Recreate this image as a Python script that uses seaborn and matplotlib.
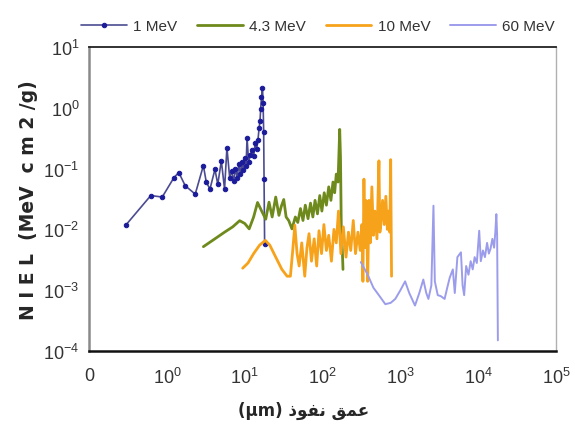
import numpy as np
import pandas as pd
import matplotlib
matplotlib.use("Agg")
import matplotlib.pyplot as plt
import seaborn as sns

# data (depth in um, NIEL in MeV cm2/g)
depth_1mev = [0.30, 0.62, 0.87, 1.23, 1.42, 1.72, 2.31, 2.94, 3.2, 3.57, 4.14, 4.5, 5.0, 5.5,
              5.9, 6.4, 6.8, 7.2, 7.6, 8.0, 8.4, 8.8, 9.2, 9.6, 10.0, 10.4, 10.7, 11.2, 11.8,
              12.4, 13.0, 13.6, 14.2, 14.8, 15.3, 15.7, 16.0, 16.4, 16.9, 17.2, 17.5, 17.7, 18.0]
niel_1mev = [0.012, 0.036, 0.034, 0.071, 0.086, 0.052, 0.038, 0.112, 0.06, 0.046, 0.097, 0.055,
             0.134, 0.046, 0.22, 0.071, 0.09, 0.062, 0.1, 0.07, 0.12, 0.08, 0.13, 0.095, 0.15,
             0.11, 0.32, 0.13, 0.17, 0.2, 0.16, 0.26, 0.21, 0.3, 0.47, 0.6, 0.94, 1.5, 2.1,
             1.2, 0.4, 0.067, 0.0058]

depth_4mev = [2.94, 4.0, 5.5, 7.0, 8.6, 10.0, 11.4, 13.0, 14.6, 16.5, 18.6, 20.5, 22.5, 25,
              27.5, 29.5, 31.7, 34, 36.8, 40.4, 44.7, 48, 52, 56, 60, 65, 70, 75, 80, 86, 92,
              98, 105, 112, 120, 128, 136, 143, 150, 158, 166, 170, 174, 178, 183]
niel_4mev = [0.0052, 0.0068, 0.009, 0.011, 0.0139, 0.0125, 0.0102, 0.016, 0.0277, 0.02, 0.0147,
             0.028, 0.016, 0.034, 0.017, 0.024, 0.031, 0.016, 0.0139, 0.0102, 0.016, 0.013,
             0.022, 0.014, 0.025, 0.015, 0.027, 0.016, 0.03, 0.018, 0.036, 0.02, 0.04, 0.025,
             0.05, 0.03, 0.06, 0.04, 0.081, 0.06, 0.44, 0.15, 0.0102, 0.006, 0.0022]

depth_10mev = [9.4, 11, 13, 15.5, 18.4, 21, 25, 30, 35, 38.6, 41, 44, 47, 50, 54, 59, 63, 67,
               72, 78, 84, 90, 97, 104, 112, 120, 130, 140, 150, 160, 172, 185, 200, 215, 230,
               248, 265, 285, 305, 320, 330, 340, 350, 360, 372, 380, 395, 410, 430, 450, 470,
               500, 530, 545, 560, 590, 620, 650, 680, 700, 730, 750, 770]
niel_10mev = [0.0023, 0.0028, 0.004, 0.0055, 0.0066, 0.0055, 0.0035, 0.0022, 0.0017, 0.0017,
              0.004, 0.0117, 0.004, 0.0025, 0.006, 0.0017, 0.005, 0.0085, 0.003, 0.007, 0.0025,
              0.0095, 0.004, 0.012, 0.0045, 0.008, 0.003, 0.01, 0.006, 0.02, 0.004, 0.011,
              0.0035, 0.009, 0.0045, 0.014, 0.004, 0.009, 0.0045, 0.012, 0.0014, 0.067, 0.005,
              0.03, 0.008, 0.0014, 0.03, 0.006, 0.05, 0.008, 0.02, 0.007, 0.134, 0.009, 0.012,
              0.03, 0.012, 0.035, 0.01, 0.02, 0.009, 0.14, 0.0017]

depth_60mev = [310, 380, 450, 540, 640, 750, 860, 1000, 1150, 1300, 1540, 1750, 1970, 2150,
               2290, 2500, 2660, 2770, 3020, 3300, 3700, 4000, 4300, 4720, 5000, 5400, 6000,
               6300, 6600, 7000, 7500, 8000, 8500, 9000, 9600, 10300, 10800, 11500, 12200,
               13000, 13700, 14400, 15200, 16000, 16600, 17100, 17500, 17900]
niel_60mev = [0.0029, 0.0018, 0.0011, 0.0008, 0.00059, 0.00062, 0.00072, 0.001, 0.0014, 0.0009,
              0.00056, 0.0009, 0.0015, 0.0009, 0.00072, 0.0012, 0.0245, 0.0014, 0.00083, 0.0008,
              0.00072, 0.0011, 0.0016, 0.0022, 0.0009, 0.0035, 0.0042, 0.0012, 0.00083, 0.0025,
              0.0018, 0.003, 0.0022, 0.0035, 0.0028, 0.0095, 0.003, 0.0045, 0.0035, 0.006,
              0.004, 0.0048, 0.007, 0.005, 0.009, 0.0178, 0.008, 0.00015]

series_labels = ["1 MeV", "4.3 MeV", "10 MeV", "60 MeV"]
x_ticks = [0.1, 1, 10, 100, 1000, 10000, 100000]
x_tick_labels = ["0"] + [r"$\mathdefault{10^{%d}}$" % k for k in range(0, 6)]
y_ticks = [1e-4, 1e-3, 1e-2, 1e-1, 1, 10]
y_tick_labels = [r"$\mathdefault{10^{%d}}$" % k for k in range(-4, 2)]

sns.set_style("white")
plt.rcParams['font.family'] = ['Liberation Sans', 'DejaVu Sans']

frames = []
for lab, xs, ys in zip(series_labels,
                       [depth_1mev, depth_4mev, depth_10mev, depth_60mev],
                       [niel_1mev, niel_4mev, niel_10mev, niel_60mev]):
    frames.append(pd.DataFrame({"depth": xs, "niel": ys, "energy": lab}))
df = pd.concat(frames, ignore_index=True)

colors = {"1 MeV": "#4b4b92", "4.3 MeV": "#6f8a1c", "10 MeV": "#f7a21b", "60 MeV": "#9c9cec"}
widths = {"1 MeV": 1.2, "4.3 MeV": 2.0, "10 MeV": 2.0, "60 MeV": 1.4}

fig = plt.figure(figsize=(5.75, 4.39), dpi=100)
ax = fig.add_axes([0.155, 0.198, 0.812, 0.693])

for lab in series_labels:
    sub = df[df["energy"] == lab]
    kw = {}
    if lab == "1 MeV":
        kw = dict(marker="o", markersize=3.2, markerfacecolor="#1c1c9a",
                  markeredgecolor="#1c1c9a")
    sns.lineplot(data=sub, x="depth", y="niel", ax=ax, color=colors[lab],
                 linewidth=widths[lab], sort=False, estimator=None, label=lab, **kw)

ax.set_xscale("log")
ax.set_yscale("log")
ax.set_xlim(0.1, 1e5)
ax.set_ylim(1e-4, 10)
ax.set_xticks(x_ticks)
ax.set_xticklabels(x_tick_labels)
ax.set_yticks(y_ticks)
ax.set_yticklabels(y_tick_labels)
ax.minorticks_off()
ax.tick_params(axis="x", direction="inout", length=7, width=1.2, labelsize=13,
               colors="#333333", pad=8)
ax.tick_params(axis="y", direction="in", length=4, width=2, labelsize=13,
               colors="#333333", pad=7)
for t in ax.get_xticklabels() + ax.get_yticklabels():
    t.set_color("#333333")
ax.tick_params(axis="both", color="#111111")

for side, c, w in [("left", "#8a8a8a", 1.8), ("bottom", "#111111", 1.8),
                   ("top", "#222222", 1.3), ("right", "#b0b0b0", 1.0)]:
    ax.spines[side].set_visible(True)
    ax.spines[side].set_color(c)
    ax.spines[side].set_linewidth(w)

ax.set_ylabel("N I E L  (MeV  c m 2 /g)", fontsize=13.5, fontweight="bold",
              family=["DejaVu Sans"], labelpad=4)
# Arabic label in presentation forms, visual order: (μm) نفوذ عمق
ax.set_xlabel("(\u00b5m) \uFEAB\uFEEE\uFED4\uFEE7 \uFED6\uFEE4\uFECB", fontsize=12,
              fontweight="bold", family=["DejaVu Sans"])
ax.xaxis.set_label_coords(0.46, -0.165)

ax.legend(loc="lower center", bbox_to_anchor=(0.49, 1.0), ncol=4, frameon=False,
          fontsize=11, handlelength=3.0, columnspacing=1.3, handletextpad=0.4,
          borderaxespad=0.5)
for t in ax.get_legend().get_texts():
    t.set_color("#333333")

fig.savefig("out.png", dpi=100)
